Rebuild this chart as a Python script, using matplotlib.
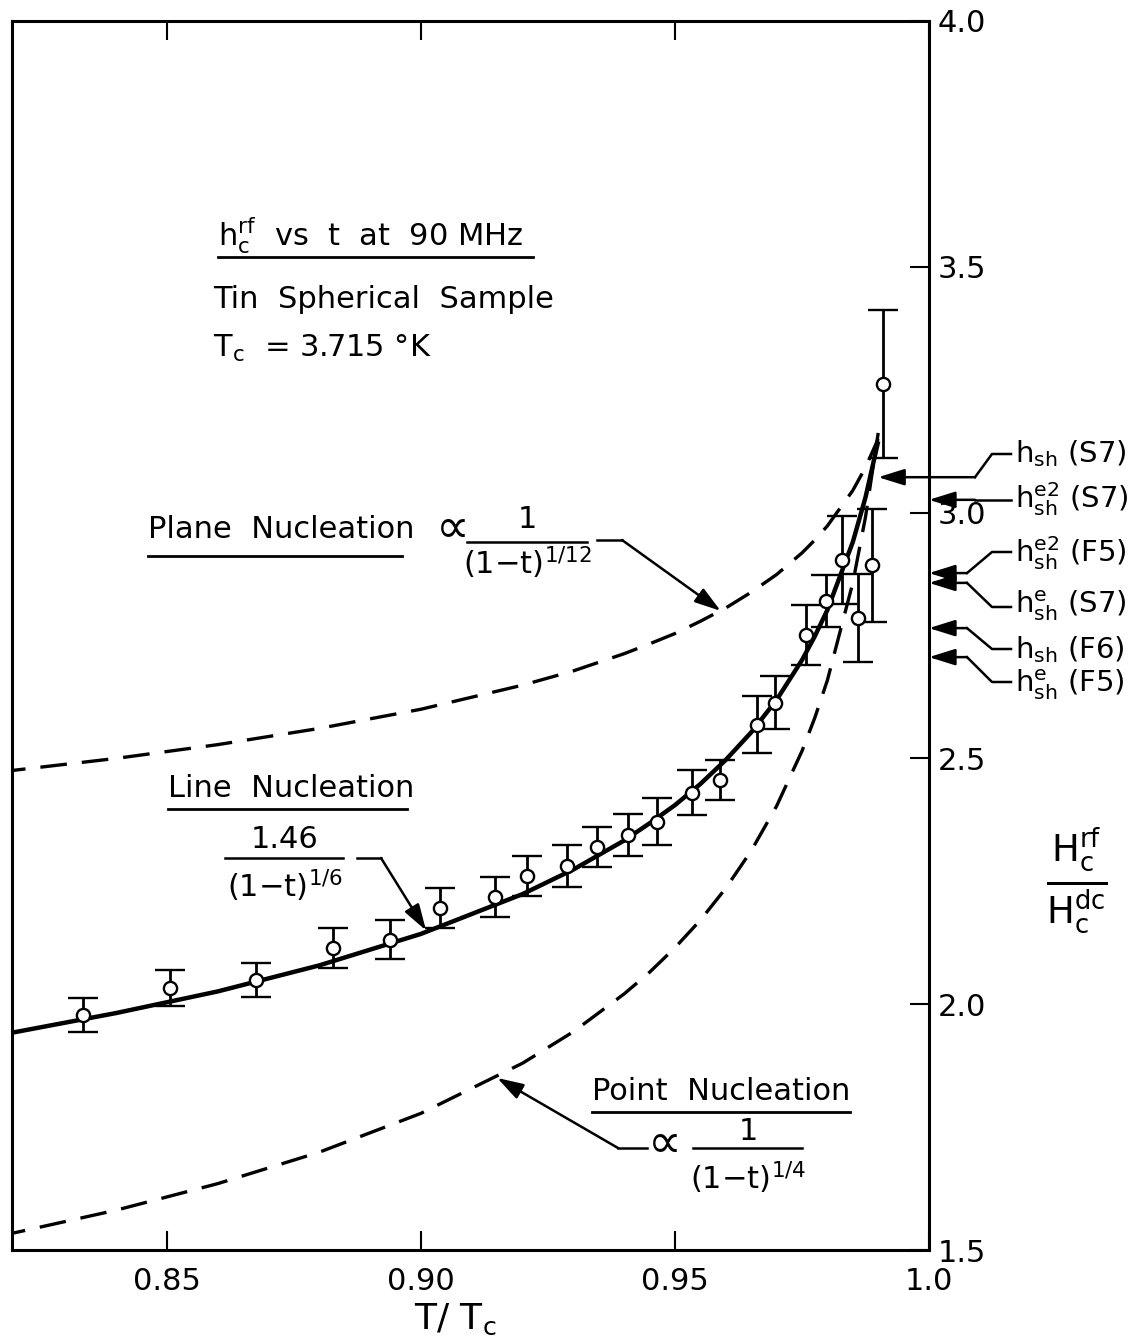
import matplotlib
matplotlib.use("Agg")
import matplotlib.pyplot as plt
from matplotlib.lines import Line2D

plt.rcParams['font.family'] = ['DejaVu Sans']
plt.rcParams['mathtext.default'] = 'regular'

# measured points (T/Tc, Hc_rf/Hc_dc, error)
t_data = [0.8335, 0.8506, 0.8675, 0.8827, 0.8939, 0.9037, 0.9146, 0.9209, 0.9287, 0.9346, 0.9407,
          0.9465, 0.9533, 0.9589, 0.9661, 0.9697, 0.9758, 0.9797, 0.9829, 0.9860, 0.9888, 0.9909]
h_data = [1.978, 2.033, 2.049, 2.114, 2.131, 2.196, 2.218, 2.261, 2.281, 2.320, 2.344,
          2.371, 2.430, 2.456, 2.568, 2.613, 2.751, 2.820, 2.904, 2.786, 2.893, 3.262]
h_err = [0.035, 0.037, 0.035, 0.040, 0.040, 0.040, 0.040, 0.040, 0.043, 0.040, 0.043,
         0.048, 0.046, 0.040, 0.058, 0.054, 0.061, 0.053, 0.090, 0.090, 0.115, 0.150]

# curves
t_curve = [0.815, 0.82, 0.84, 0.86, 0.88, 0.90, 0.92, 0.93, 0.94, 0.945, 0.95, 0.955, 0.96,
           0.965, 0.97, 0.975, 0.9775, 0.98, 0.985, 0.9875, 0.99]
line_nuc = [1.934, 1.943, 1.982, 2.026, 2.079, 2.143, 2.224, 2.274, 2.333, 2.368, 2.405, 2.448,
            2.497, 2.553, 2.619, 2.700, 2.748, 2.802, 2.940, 3.031, 3.145]
plane_nuc = [2.470, 2.476, 2.500, 2.528, 2.561, 2.600, 2.649, 2.678, 2.713, 2.733, 2.754, 2.779,
             2.806, 2.838, 2.874, 2.918, 2.944, 2.973, 3.045, 3.092, 3.150]
point_nuc = [1.525, 1.535, 1.581, 1.635, 1.699, 1.778, 1.880, 1.944, 2.021, 2.065, 2.115, 2.171,
             2.236, 2.312, 2.403, 2.515, 2.582, 2.659, 2.857, 2.991, 3.162]

# superheating field markers on the right
hsh_labels = [r'$h_{sh}$ (S7)', r'$h_{sh}^{e2}$ (S7)', r'$h_{sh}^{e2}$ (F5)',
              r'$h_{sh}^{e}$ (S7)', r'$h_{sh}$ (F6)', r'$h_{sh}^{e}$ (F5)']
hsh_values = [3.072, 3.026, 2.877, 2.857, 2.765, 2.706]

xticks = [0.85, 0.90, 0.95, 1.0]
xticklabels = ['0.85', '0.90', '0.95', '1.0']
yticks = [1.5, 2.0, 2.5, 3.0, 3.5, 4.0]
yticklabels = ['1.5', '2.0', '2.5', '3.0', '3.5', '4.0']

W, H = 1137, 1339
fig = plt.figure(figsize=(W / 100, H / 100), dpi=100)
ax = fig.add_axes([12 / W, 1 - 1250 / H, (929 - 12) / W, (1250 - 21) / H])
ax.set_xlim(0.8195, 1.0)
ax.set_ylim(1.5, 4.0)

def fp(x, y):
    return (x / W, 1 - y / H)

def seg(xs, ys, lw=1.8):
    fig.add_artist(Line2D([x / W for x in xs], [1 - y / H for y in ys],
                          transform=fig.transFigure, color='k', lw=lw))

def txt(x, y, s, size=22, ha='left'):
    fig.text(x / W, 1 - y / H, s, size=size, ha=ha, va='baseline')

ARW = dict(arrowstyle='-|>,head_length=0.8,head_width=0.25', mutation_scale=20,
           color='k', lw=1.8, shrinkA=0, shrinkB=0)

def arrow_to(tip, start_px):
    ax.annotate('', xy=tip, xycoords='data', xytext=fp(*start_px),
                textcoords='figure fraction', arrowprops=ARW, annotation_clip=False)

# curves
ax.plot(t_curve, line_nuc, color='k', lw=3.2, solid_capstyle='butt')
ax.plot(t_curve, plane_nuc, color='k', lw=2.4, dashes=(8, 4.5))
ax.plot(t_curve, point_nuc, color='k', lw=2.4, dashes=(8, 4.5))

ax.errorbar(t_data, h_data, yerr=h_err, fmt='o', color='k', mfc='white', mec='k',
            ms=9.5, mew=1.7, elinewidth=2, capsize=11, capthick=2, zorder=5)

# axes styling
for s in ax.spines.values():
    s.set_linewidth(2.2)
ax.set_xticks(xticks)
ax.set_xticklabels(xticklabels)
ax.set_yticks(yticks)
ax.set_yticklabels(yticklabels)
ax.tick_params(axis='x', direction='in', top=True, bottom=True, length=14, width=1.5,
               labelsize=22, pad=12)
ax.yaxis.tick_right()
ax.tick_params(axis='y', direction='in', left=False, right=True, length=14, width=1.5,
               labelsize=22, pad=6)

txt(455, 1329, r'T/ $T_c$', size=26, ha='center')
fig.text(1077 / W, 1 - 880 / H, r'$\frac{H_c^{rf}}{H_c^{dc}}$', size=38, ha='center', va='center')

# title block
txt(218, 245, r'$h_c^{rf}$  vs  t  at  90 MHz')
seg([218, 533], [257, 257], lw=2)
txt(213, 308, 'Tin  Spherical  Sample')
txt(213, 357, r'$T_c$  = 3.715 °K')

# plane nucleation
txt(148, 538, 'Plane  Nucleation')
seg([148, 402], [556, 556], lw=2)
txt(436, 542, '∝', size=34)
txt(527, 528, '1', ha='center')
seg([467, 587], [542, 542], lw=1.8)
txt(527, 574, r'(1$-$t)$^{1/12}$', ha='center')
seg([597, 622], [540, 540])
arrow_to((0.959, 2.80), (622, 540))

# line nucleation
txt(168, 797, 'Line  Nucleation')
seg([168, 407], [809, 809], lw=2)
txt(285, 848, '1.46', ha='center')
seg([225, 343], [858, 858], lw=1.8)
txt(285, 897, r'(1$-$t)$^{1/6}$', ha='center')
seg([357, 381], [858, 858])
arrow_to((0.901, 2.15), (381, 858))

# point nucleation
txt(592, 1100, 'Point  Nucleation')
seg([592, 850], [1112, 1112], lw=2)
txt(648, 1157, '∝', size=34)
txt(748, 1140, '1', ha='center')
seg([693, 802], [1148, 1148], lw=1.8)
txt(748, 1189, r'(1$-$t)$^{1/4}$', ha='center')
seg([647, 618], [1148, 1148])
arrow_to((0.915, 1.85), (618, 1148))

# right hand markers
text_base = [462, 508, 562, 613, 658, 692]
text_line = [454, 500, 552, 607, 649, 682]
tip_t = [0.990, 1.0, 1.0, 1.0, 1.0, 1.0]
for lab, v, yb, yl, tt in zip(hsh_labels, hsh_values, text_base, text_line, tip_t):
    txt(1015, yb, lab, size=21)
    ytip = H - ax.transData.transform((1.0, v))[1]
    if abs(ytip - yl) < 4:
        seg([1011, 975], [yl, yl])
        start = (975, ytip)
    else:
        xk = 975 if tt < 1.0 else 967
        seg([1011, 992, xk], [yl, yl, ytip])
        start = (xk, ytip)
    arrow_to((tt, v), start)

fig.savefig('out.png', dpi=100)
